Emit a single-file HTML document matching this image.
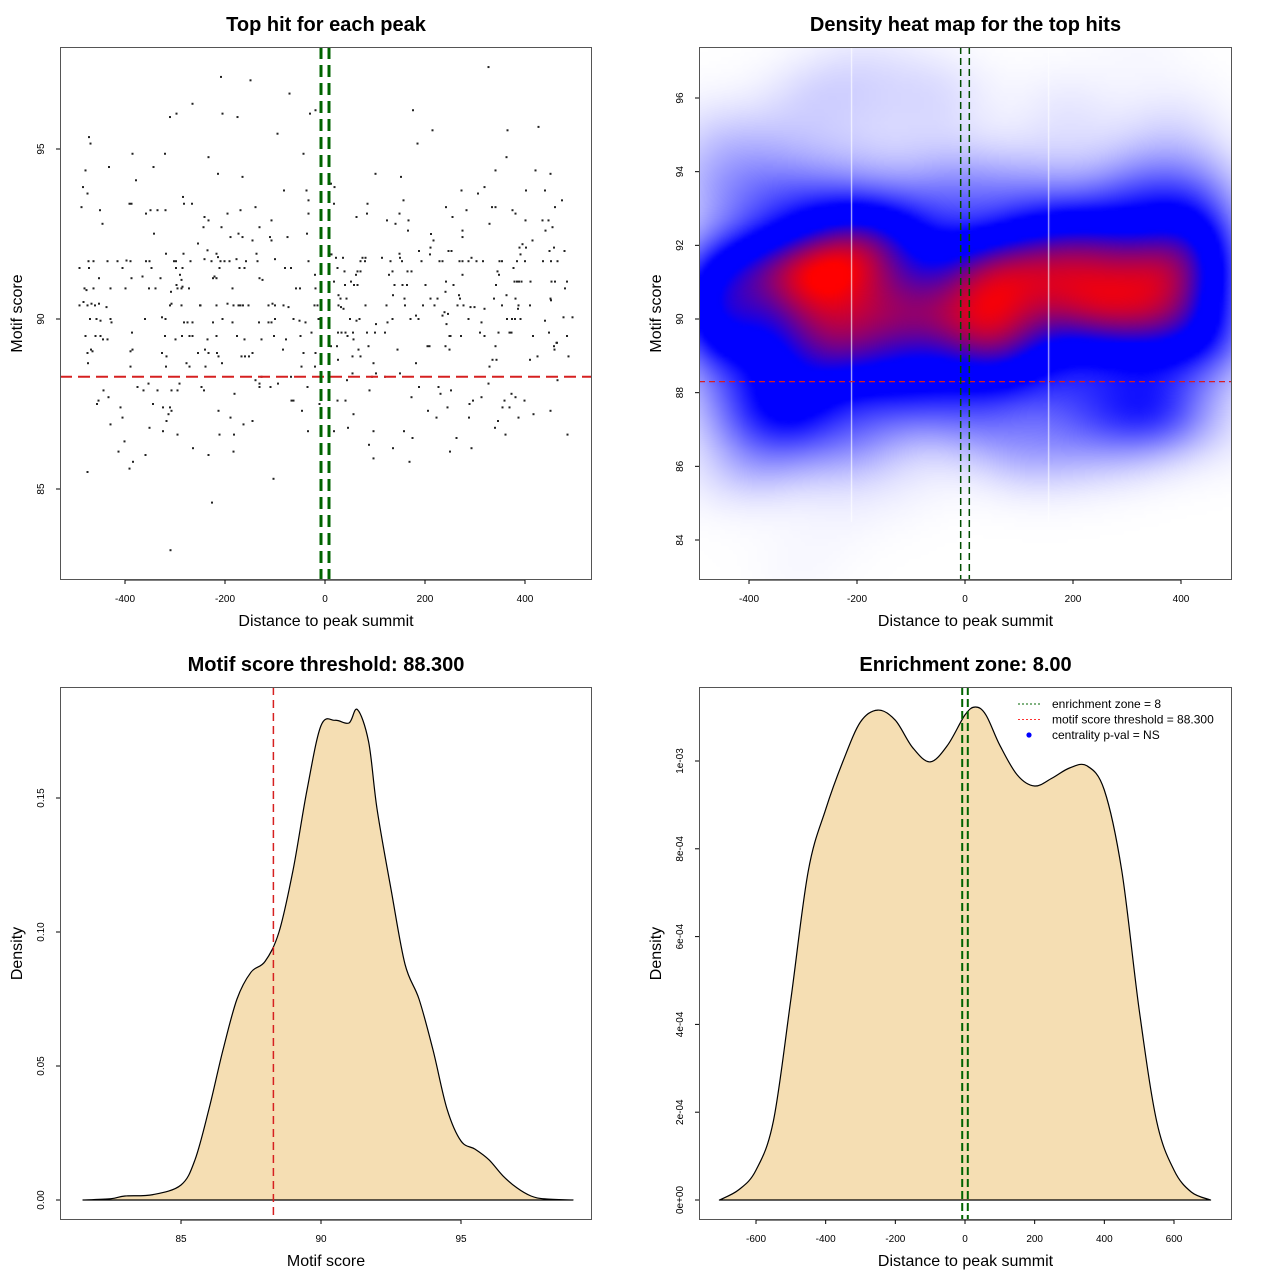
<!DOCTYPE html>
<html><head><meta charset="utf-8">
<style>
html,body{margin:0;padding:0;background:#fff}
body{width:1280px;height:1280px;position:relative;overflow:hidden;font-family:"Liberation Sans",sans-serif}
svg{position:absolute;left:0;top:0}
#heat{position:absolute;left:699px;top:47px;width:533px;height:533px}
</style></head><body>
<canvas id="heat" width="533" height="533"></canvas>
<svg id="s" width="1280" height="1280"></svg>
<script>
// ---- Scatter data (distance to summit, motif score) ----
const scatterDist = [-208,-149,-71,-265,-310,-297,-205,-175,-30,-19,-95,-472,-469,-385,-320,-233,-432,-343,-43,-479,-214,-165,-378,-484,-475,-284,-82,-37,-33,-487,-450,-391,-387,-282,-266,-358,-349,-335,-319,-241,-233,-195,-169,-139,-33,-9,-445,-243,-207,-131,-107,-342,-189,-173,-165,-145,-110,-107,-75,-36,-254,-235,-318,-283,-217,-214,-137,
-473,-463,-435,-415,-397,-389,-358,-351,-302,-298,-269,-241,-227,-209,-201,-191,-177,-158,-135,-100,-33,
-491,-472,-405,-347,-298,-285,-211,-171,-161,-80,-68,
-452,-387,-365,-329,-290,-287,-224,-221,-217,-131,-125,-20,
-481,-477,-463,-429,-399,-352,-339,-308,-297,-295,-287,-285,-272,-185,-58,-50,-19,
-491,-483,-475,-467,-460,-452,-437,-310,-307,-287,-250,-249,-217,-195,-183,-173,-169,-164,-153,-113,-105,-100,-83,-73,-21,-15,
-470,-457,-449,-429,-427,-360,-326,-319,-282,-275,-265,-224,-205,-185,-132,-113,-107,-100,-63,-51,-39,-13,
-479,-459,-449,-444,-435,-386,-320,-299,-286,-271,-265,-235,-217,-176,-161,-127,-102,-78,-49,-27,
-475,-468,-465,-389,-385,-326,-317,-254,-240,-233,-216,-213,-167,-160,-152,-145,-84,-43,-19,
-474,-389,-318,-277,-271,-239,-206,-47,-20,
-139,-131,-127,-131,-109,-94,-35,-68,
-443,-375,-363,-353,-335,-307,-295,-291,-247,-242,-181,
-453,-456,-433,-344,-67,-63,-46,-11,
-409,-324,-310,-307,-313,-213,-405,-189,-317,-145,
-429,-351,-324,-295,-211,-182,-163,-34,
-401,-413,-264,-359,-233,-183,-384,-391,-475,-103,-226,-309,
327,176,215,365,427,185,363,101,152,341,421,451,12,19,273,306,319,402,440,18,85,157,474,242,334,341,375,283,460,63,84,149,255,381,124,141,167,329,401,435,447,166,275,275,212,441,455,217,395,415,211,389,402,458,188,247,253,449,479,149,
13,22,36,75,81,114,131,150,71,80,154,193,210,229,235,269,275,287,303,316,349,354,384,400,436,452,465,391,293,
25,39,71,128,135,62,65,165,275,348,345,377,173,
18,40,52,58,65,139,155,164,201,242,257,342,379,384,388,393,411,453,460,484,480,
27,31,43,136,159,211,225,241,268,270,338,363,381,451,452,
27,32,37,81,123,160,196,219,265,277,291,299,319,354,387,410,386,
50,63,69,102,125,135,171,182,187,235,239,246,243,287,313,364,374,380,391,440,477,495,
26,33,41,45,56,84,100,120,249,251,272,310,319,347,369,373,416,448,484,
12,24,57,67,87,145,205,209,241,249,341,458,463,464,459,
26,55,71,97,182,335,343,410,425,487,329,
44,55,94,102,120,150,465,327,
89,188,227,231,252,313,373,381,
25,41,173,296,289,359,399,355,369,245,
57,206,223,288,387,417,451,346,
46,18,97,158,340,361,485,175,263,
88,136,250,293,97,169];
const scatterScore = [97.12,97.02,96.63,96.33,95.94,96.04,96.04,95.94,96.04,96.14,95.45,95.35,95.16,94.86,94.86,94.76,94.47,94.47,94.86,94.37,94.27,94.18,94.08,93.88,93.69,93.59,93.78,93.78,93.49,93.29,93.2,93.39,93.39,93.39,93.39,93.1,93.2,93.2,93.2,93.0,92.9,93.1,93.2,93.29,93.1,93.0,92.8,92.7,92.7,92.7,92.9,92.51,92.41,92.51,92.41,92.31,92.41,92.31,92.41,92.51,92.22,92.02,91.92,91.92,91.92,91.82,91.92,
91.7,91.7,91.7,91.7,91.72,91.7,91.7,91.7,91.7,91.7,91.7,91.76,91.7,91.7,91.7,91.7,91.76,91.7,91.7,91.76,91.7,
91.5,91.5,91.5,91.5,91.5,91.5,91.5,91.5,91.5,91.5,91.5,
91.2,91.2,91.25,91.2,91.3,91.15,91.2,91.25,91.2,91.2,91.15,91.3,
90.9,90.85,90.9,90.9,90.9,90.9,90.9,90.8,91.0,90.9,90.9,90.95,90.9,90.9,90.9,90.9,90.9,
90.4,90.5,90.4,90.45,90.4,90.45,90.35,90.4,90.45,90.4,90.4,90.4,90.4,90.45,90.4,90.4,90.4,90.4,90.4,90.4,90.45,90.4,90.4,90.35,90.4,90.4,
90.0,90.0,89.95,90.0,89.9,90.0,90.05,90.0,89.9,89.9,89.9,89.9,90.0,89.9,89.9,89.9,89.9,90.0,90.0,89.95,89.9,90.0,
89.5,89.5,89.5,89.4,89.4,89.6,89.5,89.4,89.5,89.5,89.5,89.4,89.5,89.5,89.4,89.4,89.5,89.4,89.5,89.6,
89.0,89.1,89.05,89.05,89.1,89.0,88.9,89.0,89.1,89.0,89.0,88.9,88.9,88.9,88.9,89.0,89.1,89.0,89.0,
88.7,88.6,88.6,88.7,88.6,88.6,88.7,88.6,88.6,
88.2,88.1,88.3,88.0,88.0,88.1,88.0,88.3,
87.9,88.0,87.9,88.1,87.9,87.9,87.9,88.1,88.0,87.9,87.8,
87.6,87.5,87.7,87.5,87.6,87.6,87.3,87.5,
87.4,87.4,87.4,87.3,87.2,87.3,87.1,87.1,87.0,87.0,
86.9,86.8,86.7,86.6,86.6,86.6,86.9,86.7,
86.4,86.1,86.2,86.0,86.0,86.1,85.8,85.6,85.5,85.3,84.6,83.2,
97.41,96.14,95.55,95.55,95.65,95.16,94.76,94.27,94.18,94.37,94.37,94.27,93.98,93.88,93.78,93.69,93.88,93.78,93.78,93.39,93.39,93.49,93.49,93.29,93.29,93.29,93.2,93.2,93.29,93.0,93.1,93.1,93.0,93.1,92.9,92.8,92.9,92.8,92.9,92.9,92.9,92.6,92.6,92.41,92.5,92.6,92.7,92.31,92.2,92.31,92.1,92.1,92.1,92.1,92.0,92.0,92.0,92.0,92.0,91.92,
91.9,91.8,91.8,91.8,91.8,91.8,91.7,91.8,91.7,91.7,91.7,91.7,91.9,91.7,91.7,91.7,91.7,91.7,91.7,91.7,91.7,91.7,91.7,91.7,91.7,91.7,91.7,91.9,91.8,
91.5,91.4,91.4,91.3,91.4,91.3,91.4,91.4,91.3,91.3,91.4,91.5,91.4,
91.1,91.0,91.1,91.0,91.0,91.0,91.0,91.0,91.0,91.1,91.0,91.0,91.1,91.1,91.1,91.1,91.1,91.1,91.1,91.1,90.9,
90.7,90.6,90.6,90.7,90.6,90.6,90.6,90.8,90.7,90.6,90.6,90.7,90.6,90.6,90.55,
90.4,90.35,90.3,90.4,90.4,90.4,90.4,90.4,90.4,90.4,90.35,90.35,90.3,90.4,90.4,90.4,90.3,
90.0,89.95,90.0,89.85,89.9,90.0,90.0,90.1,90.0,90.1,90.2,90.15,89.85,90.0,89.9,90.0,90.0,90.0,90.0,89.95,90.05,90.05,
89.6,89.6,89.6,89.5,89.6,89.6,89.6,89.6,89.5,89.5,89.5,89.6,89.5,89.6,89.6,89.6,89.5,89.6,89.5,
89.2,89.2,89.4,89.1,89.2,89.1,89.2,89.2,89.2,89.1,89.2,89.2,89.3,89.3,89.1,
88.8,88.9,88.9,88.7,88.7,88.8,88.8,88.8,88.9,88.9,88.6,
88.2,88.4,88.3,88.4,88.3,88.4,88.2,88.1,
87.9,88.0,88.0,87.8,87.9,87.7,87.8,87.7,
87.6,87.6,87.7,87.6,87.5,87.6,87.6,87.4,87.4,87.4,
87.2,87.3,87.1,87.1,87.1,87.2,87.3,87.0,
86.8,86.7,86.7,86.7,86.8,86.6,86.6,86.5,86.5,
86.3,86.2,86.1,86.2,85.9,85.8];

// ---- Motif score density ----
const scoreX = [81.5,82.5,83,84,85,85.5,86,86.5,87,87.5,88,88.5,89,89.5,90,90.5,91,91.3,91.7,92,92.5,93,93.5,94,94.5,95,95.5,96,96.5,97,97.5,98,99];
const scoreDens = [0,0.0005,0.0015,0.002,0.0056,0.015,0.034,0.056,0.075,0.085,0.089,0.10,0.123,0.153,0.177,0.179,0.178,0.183,0.171,0.146,0.116,0.088,0.075,0.056,0.034,0.022,0.019,0.015,0.009,0.0045,0.0015,0.0004,0];
// ---- Distance density ----
const distX = [-705,-650,-600,-550,-500,-450,-400,-350,-300,-250,-200,-150,-100,-50,0,30,60,100,150,200,250,300,350,400,450,500,550,600,650,705];
const distDens = [0,2.3e-5,6.8e-5,1.8e-4,4.56e-4,7.5e-4,8.9e-4,1.0e-3,1.089e-3,1.116e-3,1.093e-3,1.03e-3,0.998e-3,1.036e-3,1.105e-3,1.123e-3,1.105e-3,1.036e-3,0.968e-3,0.943e-3,0.961e-3,0.984e-3,0.989e-3,0.934e-3,0.75e-3,0.433e-3,0.18e-3,0.068e-3,0.018e-3,0];
const xTicks1=[-400,-200,0,200,400], yTicks1=[85,90,95];
const yTicks2=[84,86,88,90,92,94,96];
const xTicks3=[85,90,95], yTicks3=[0,0.05,0.10,0.15], yLab3=["0.00","0.05","0.10","0.15"];
const xTicks4=[-600,-400,-200,0,200,400,600], yTicks4=[0,2e-4,4e-4,6e-4,8e-4,1e-3], yLab4=["0e+00","2e-04","4e-04","6e-04","8e-04","1e-03"];
const zone=8, threshold=88.3;

const NS="http://www.w3.org/2000/svg", svg=document.getElementById('s');
function el(tag,attrs,parent){const e=document.createElementNS(NS,tag);for(const k in attrs)e.setAttribute(k,attrs[k]);(parent||svg).appendChild(e);return e;}
function txt(x,y,s,size,opts,parent){const t=el('text',Object.assign({x:x,y:y,'font-size':size,'text-anchor':'middle','font-family':'Liberation Sans, sans-serif'},opts||{}),parent);t.textContent=s;return t;}
function lin(d0,d1,p0,p1){return v=>p0+(v-d0)*(p1-p0)/(d1-d0);}

function panel(name,L,T,W,H,sx,sy,xt,xl,yt,yl,title,xlab,ylab){
  const g=el('g',{});
  
  const tt=txt(L+W/2,T-16,title,20,{'font-weight':'bold'},g);
  const xa=el('g',{},g);
  xt.forEach((v,i)=>{const x=sx(v);el('line',{x1:x,x2:x,y1:T+H,y2:T+H+4,stroke:'#000'},xa);txt(x,T+H+22,xl[i],10,{},xa);});
  el('line',{x1:sx(xt[0]),x2:sx(xt[xt.length-1]),y1:T+H,y2:T+H,stroke:'#000'},xa);
  const ya=el('g',{},g);
  yt.forEach((v,i)=>{const y=sy(v);el('line',{x1:L-4,x2:L,y1:y,y2:y,stroke:'#000'},ya);txt(L-16,y,yl[i],10,{transform:`rotate(-90 ${L-16} ${y})`},ya);});
  const xT=txt(L+W/2,T+H+46,xlab,16,{},g);
  const yT=txt(L-38,T+H/2,ylab,16,{transform:`rotate(-90 ${L-38} ${T+H/2})`},g);
  return g;
}
function box(L,T,W,H){const b=el('rect',{x:L+.5,y:T+.5,width:W-1,height:H-1,fill:'none',stroke:'#555'});}

// Panel 1: scatter
{const L=60,T=47,W=532,H=533;const sx=lin(0,400,325,525),sy=lin(90,95,319,149);
 panel('scatter-panel',L,T,W,H,sx,sy,xTicks1,xTicks1.map(String),yTicks1,yTicks1.map(String),'Top hit for each peak','Distance to peak summit','Motif score');
 const g=el('g',{});
 scatterDist.forEach((d,i)=>{const p=el('rect',{x:sx(d)-1,y:sy(scatterScore[i])-1,width:2,height:2,fill:'#222'},g);
 });
 const r=el('line',{x1:L,x2:L+W,y1:sy(threshold),y2:sy(threshold),stroke:'#d62020','stroke-width':2,'stroke-dasharray':'12,6'});
 [-zone,zone].forEach(z=>{const l=el('line',{x1:sx(z),x2:sx(z),y1:T,y2:T+H,stroke:'#006400','stroke-width':3,'stroke-dasharray':'12,6'});});
 box(L,T,W,H);}

// Panel 2: heatmap
{const L=699,T=47,W=533,H=533;const sx=lin(0,400,965,1181),sy=lin(90,96,319,98);
 panel('heatmap-panel',L,T,W,H,sx,sy,xTicks1,xTicks1.map(String),yTicks2,yTicks2.map(String),'Density heat map for the top hits','Distance to peak summit','Motif score');
 const cv=document.getElementById('heat'),ctx=cv.getContext('2d');
 const step=4,gw=Math.ceil(W/step),gh=Math.ceil(H/step);
 const hx=70,hy=0.8;const vals=new Float32Array(gw*gh);let mx=0;
 const ix=px=>(px-965)/0.54, iy=py=>90-(py-319)/36.83;
 for(let j=0;j<gh;j++)for(let i=0;i<gw;i++){const d=ix(L+i*step+step/2),s=iy(T+j*step+step/2);let v=0;
  for(let k=0;k<scatterDist.length;k++){const a=(d-scatterDist[k])/hx,b=(s-scatterScore[k])/hy;const q=a*a+b*b;if(q<12)v+=Math.exp(-q/2);}
  vals[j*gw+i]=v;if(v>mx)mx=v;}
 const off=document.createElement('canvas');off.width=gw;off.height=gh;const oc=off.getContext('2d');const im=oc.createImageData(gw,gh);
 for(let n=0;n<gw*gh;n++){let t=Math.min(1,vals[n]/mx);let r,g,b;
  if(t<0.5){const u=Math.pow(t/0.5,1.3);r=255*(1-u);g=255*(1-u);b=255;}
  else if(t<0.68){r=0;g=0;b=255;}
  else{const u=Math.min(1,(t-0.68)/0.3);r=255*u;g=0;b=255*(1-u);}
  im.data[n*4]=r;im.data[n*4+1]=g;im.data[n*4+2]=b;im.data[n*4+3]=255;}
 oc.putImageData(im,0,0);ctx.imageSmoothingEnabled=true;ctx.drawImage(off,0,0,W,H);
 ctx.strokeStyle='rgba(255,255,255,0.9)';ctx.lineWidth=1;[-210,155].forEach(d=>{const x=sx(d)-L;ctx.beginPath();ctx.moveTo(x,0);ctx.lineTo(x,475);ctx.stroke();});
 const r=el('line',{x1:L,x2:L+W,y1:sy(threshold),y2:sy(threshold),stroke:'#d62020','stroke-width':1.3,'stroke-dasharray':'6,4'});
 [-zone,zone].forEach(z=>{const l=el('line',{x1:sx(z),x2:sx(z),y1:T,y2:T+H,stroke:'#004d00','stroke-width':1.5,'stroke-dasharray':'7,4'});});
 box(L,T,W,H);}

function curve(sx,sy,X,Y,name){
 const P=X.map((x,i)=>[sx(x),sy(Y[i])]);
 let d='M'+P[0][0].toFixed(1)+','+P[0][1].toFixed(1);
 for(let i=0;i<P.length-1;i++){const p0=P[Math.max(0,i-1)],p1=P[i],p2=P[i+1],p3=P[Math.min(P.length-1,i+2)];
  const c1=[p1[0]+(p2[0]-p0[0])/6,p1[1]+(p2[1]-p0[1])/6],c2=[p2[0]-(p3[0]-p1[0])/6,p2[1]-(p3[1]-p1[1])/6];
  d+=` C${c1[0].toFixed(1)},${c1[1].toFixed(1)} ${c2[0].toFixed(1)},${c2[1].toFixed(1)} ${p2[0].toFixed(1)},${p2[1].toFixed(1)}`;}
 d+=' Z';
 const p=el('path',{d:d,fill:'#f5deb3',stroke:'#000','stroke-width':1.2,'stroke-linejoin':'round'});}

// Panel 3
{const L=60,T=687,W=532,H=533;const sx=lin(85,95,181,461),sy=lin(0,0.15,1200,798);
 panel('score-density-panel',L,T,W,H,sx,sy,xTicks3,xTicks3.map(String),yTicks3,yLab3,'Motif score threshold: 88.300','Motif score','Density');
 curve(sx,sy,scoreX,scoreDens,'score-density-curve');
 const r=el('line',{x1:sx(threshold),x2:sx(threshold),y1:T,y2:T+H,stroke:'#d62020','stroke-width':1.5,'stroke-dasharray':'8,5'});
 box(L,T,W,H);}

// Panel 4
{const L=699,T=687,W=533,H=533;const sx=lin(0,600,965,1174),sy=lin(0,1e-3,1200,761);
 panel('distance-density-panel',L,T,W,H,sx,sy,xTicks4,xTicks4.map(String),yTicks4,yLab4,'Enrichment zone: 8.00','Distance to peak summit','Density');
 curve(sx,sy,distX,distDens,'distance-density-curve');
 [-zone,zone].forEach(z=>{const l=el('line',{x1:sx(z),x2:sx(z),y1:T,y2:T+H,stroke:'#006400','stroke-width':2,'stroke-dasharray':'8,4'});});
 box(L,T,W,H);
 const lg=el('g',{});
 const items=[['enrichment zone = 8','#006400','line'],['motif score threshold = 88.300','#ff3030','line'],['centrality p-val = NS','#0000ff','dot']];
 items.forEach((it,i)=>{const y=704+i*15.5;const e=el('g',{},lg);
  if(it[2]==='line')el('line',{x1:1018,x2:1042,y1:y,y2:y,stroke:it[1],'stroke-width':1,'stroke-dasharray':'2,2'},e);else el('circle',{cx:1029,cy:y,r:2.6,fill:it[1]},e);
  txt(1052,y+4,it[0],12,{'text-anchor':'start'},e);});}
</script>
</body></html>
